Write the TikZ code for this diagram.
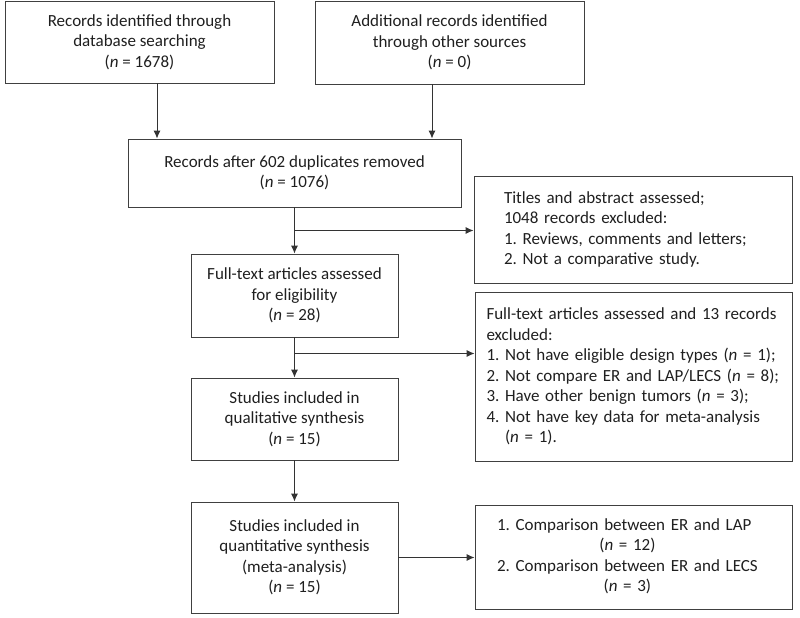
\documentclass[tikz,border=0pt]{standalone}
\usepackage{fontspec}
\setmainfont{Carlito}
\usepackage{tikz}
\usetikzlibrary{arrows.meta}
\usetikzlibrary{calc}
\frenchspacing

\tikzset{
  box/.style={draw=black!75, line width=0.9pt, rectangle, text=black!88,
    font=\fontsize{17}{20.5}\selectfont, align=center, inner sep=0pt},
  listbox/.style={box, align=left},
  arr/.style={draw=black!80, line width=0.9pt, -{Latex[length=8pt, width=7pt]}},
}

\begin{document}
\begin{tikzpicture}[x=1pt, y=-1pt]
    \useasboundingbox (0, 0) rectangle (800, 618);
    % identification
    \node[box, minimum width=269, minimum height=82] (db) at (139.5, 42)
        {Records identified through\\database searching\\(\textit{n} = 1678)};
    \node[box, minimum width=269, minimum height=83] (other) at (449.5, 42.5)
        {Additional records identified\\through other sources\\(\textit{n} = 0)};
    \node[box, minimum width=333, minimum height=68] (dup) at (294.5, 173)
        {Records after 602 duplicates removed\\(\textit{n} = 1076)};
    % screening
    \node[box, minimum width=207, minimum height=83] (full) at (294.5, 295.5)
        {Full-text articles assessed\\for eligibility\\(\textit{n} = 28)};
    \node[box, minimum width=207, minimum height=82] (qual) at (294.5, 419)
        {Studies included in\\qualitative synthesis\\(\textit{n} = 15)};
    \node[box, minimum width=207, minimum height=111] (quant) at (294.5, 557.5)
        {Studies included in\\quantitative synthesis\\(meta-analysis)\\(\textit{n} = 15)};
    % exclusions
    \node[listbox, text width=258, inner xsep=30, minimum height=107] (excl1) at (633, 229.5)
        {Titles and abstract assessed;\\1048 records excluded:\\1. Reviews, comments and letters;\\2. Not a comparative study.};
    \node[listbox, text width=294, inner xsep=11.5, minimum height=169] (excl2) at (633.5, 376.5)
        {Full-text articles assessed and 13 records\\excluded:\\
         1. Not have eligible design types (\textit{n} = 1);\\
         2. Not compare ER and LAP/LECS (\textit{n} = 8);\\
         3. Have other benign tumors (\textit{n} = 3);\\
         4. Not have key data for meta-analysis\\
         \phantom{4. }(\textit{n} = 1).};
    \node[listbox, text width=273, inner xsep=22, minimum height=104] (comp) at (633.5, 557)
        {\begin{tabular}{@{}l@{}}
         1. Comparison between ER and LAP\\
         \multicolumn{1}{@{}c@{}}{(\textit{n} = 12)}\\
         2. Comparison between ER and LECS\\
         \multicolumn{1}{@{}c@{}}{(\textit{n} = 3)}
         \end{tabular}};

    \coordinate (dbout) at ([xshift=17.5pt]db.south);
    \coordinate (otherout) at ([xshift=-17.5pt]other.south);
    \coordinate (br1) at ($(dup.south)!0.5!(full.north)$);
    \coordinate (br2) at ($(full.south)!0.4!(qual.north)$);

    \draw[arr] (dbout) -- (dbout |- dup.north);
    \draw[arr] (otherout) -- (otherout |- dup.north);
    \draw[arr] (dup.south) -- (full.north);
    \draw[arr] (br1) -- (br1 -| excl1.west);
    \draw[arr] (full.south) -- (qual.north);
    \draw[arr] (br2) -- (br2 -| excl2.west);
    \draw[arr] (qual.south) -- (quant.north);
    \draw[arr] (quant.east) -- (quant.east -| comp.west);
\end{tikzpicture}
\end{document}
